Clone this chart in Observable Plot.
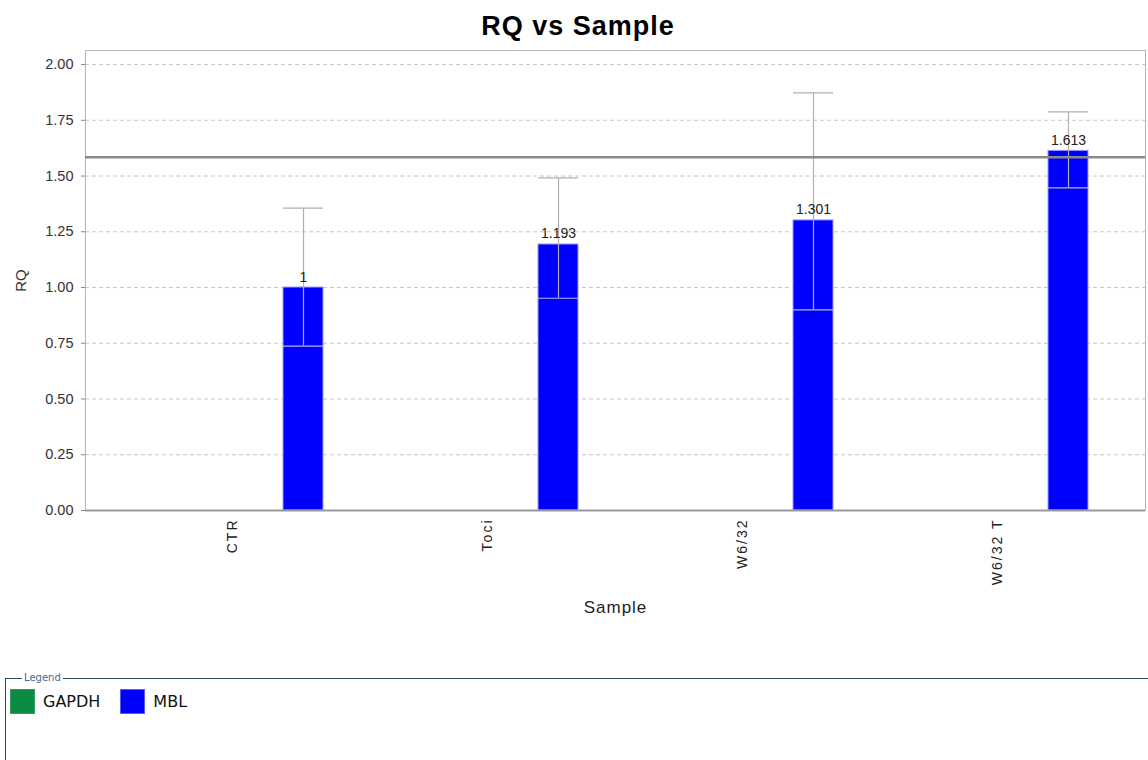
<!DOCTYPE html>
<html><head><meta charset="utf-8">
<script src="https://cdn.jsdelivr.net/npm/d3@7"></script>
<script src="https://cdn.jsdelivr.net/npm/@observablehq/plot@0.6"></script>
<style>
body{margin:0;background:#fff;font-family:"Liberation Sans",Arial,sans-serif;width:1148px;height:760px;overflow:hidden;position:relative;}
#title{position:absolute;top:0;left:4px;width:1148px;height:48px;line-height:52px;text-align:center;font-weight:bold;font-size:27px;letter-spacing:1px;color:#000;}
#chart{position:absolute;top:48px;left:0;width:1148px;height:617px;}
#chart svg{position:absolute;top:0;left:0;}
#chart g[aria-label="x-axis tick label"] text{letter-spacing:2px;}
#chart g[aria-label="y-axis label"] text{font-size:15px;}
#chart g[aria-label="x-axis label"] text{font-size:17px;letter-spacing:1px;}
#chart g[aria-label="value label"] text{letter-spacing:0.6px;}
fieldset{position:absolute;top:671px;left:5px;width:1200px;height:140px;margin:0;padding:2px 4px;border:1px solid #2e4a66;box-sizing:border-box;}
legend{font-family:"DejaVu Sans",sans-serif;font-size:10px;color:#3d6a96;padding:0 2px;margin-left:12px;line-height:14px;}
.item{display:inline-flex;align-items:center;margin-right:20px;font-family:"DejaVu Sans",sans-serif;font-size:16px;color:#111;}
.sw{display:inline-block;width:25px;height:25px;margin-right:8px;box-sizing:border-box;}
#items{position:absolute;top:4px;left:4px;}
</style></head>
<body>
<div id="title">RQ vs Sample</div>
<div id="chart"></div>
<fieldset><legend>Legend</legend><div id="items"></div></fieldset>
<script>
const samples = ["CTR", "Toci", "W6/32", "W6/32 T"];
const genes = ["GAPDH", "MBL"];
const geneColors = ["#0a8c45", "#0000ff"];
const mblRQ = [1, 1.193, 1.301, 1.613];
const mblRQMin = [0.737, 0.952, 0.900, 1.447];
const mblRQMax = [1.356, 1.492, 1.873, 1.788];
const thresholdRQ = [1.584];
const yTicks = [0, 0.25, 0.5, 0.75, 1, 1.25, 1.5, 1.75, 2];
const yDomain = [0, 2.063];

const rows = samples.map((s, i) => ({sample: s, gene: "MBL", rq: mblRQ[i], lo: mblRQMin[i], hi: mblRQMax[i]}));

const common = {
  width: 1148,
  height: 617,
  marginLeft: 85,
  marginRight: 3,
  marginTop: 2,
  marginBottom: 155,
  style: {fontFamily: "'Liberation Sans', Arial, sans-serif", fontSize: "13px", color: "#333", background: "transparent"}
};
const sampleScale = {type: "band", domain: samples, paddingInner: 0, paddingOuter: 0.078};

// Layer 1: grid and axes
const baseLayer = Plot.plot({
  ...common,
  style: {...common.style, background: "#fff"},
  x: {...sampleScale, label: null},
  y: {domain: yDomain, label: null},
  marks: [
    Plot.gridY(yTicks, {stroke: "#c8c8c8", strokeOpacity: 1, strokeDasharray: "4,3"}),
    Plot.axisY(yTicks, {tickFormat: d3.format(".2f"), tickSize: 4, tickPadding: 8, stroke: "#888", fill: "#333", fontSize: 14.5, label: "RQ", labelAnchor: "center", labelOffset: 70, labelArrow: "none"}),
    Plot.axisX({anchor: "bottom", tickSize: 0, tickPadding: 8, tickRotate: -90, fontSize: 14, fill: "#222", label: "Sample", labelAnchor: "center", labelOffset: 102, labelArrow: "none"})
  ]
});

// Layer 2: grouped bars with error bars
const barLayer = Plot.plot({
  ...common,
  fx: {...sampleScale, axis: null},
  x: {domain: genes, paddingInner: 0.718, paddingOuter: 0.257, axis: null},
  y: {domain: yDomain, axis: null},
  color: {domain: genes, range: geneColors},
  marks: [
    Plot.barY(rows, {fx: "sample", x: "gene", y: "rq", fill: "gene", stroke: "#9a9aff", strokeWidth: 1}),
    Plot.ruleX(rows, {fx: "sample", x: "gene", y1: "lo", y2: "hi", stroke: "#b0b0b0", strokeWidth: 1.2}),
    Plot.tickY(rows, {fx: "sample", x: "gene", y: "hi", stroke: "#b0b0b0", strokeWidth: 1.2}),
    Plot.tickY(rows, {fx: "sample", x: "gene", y: "lo", stroke: "#b4b4e8", strokeWidth: 1.2}),
    Plot.text(rows, {fx: "sample", x: "gene", y: "rq", text: d => String(d.rq), lineAnchor: "bottom", dy: -6, fill: "#222", fontSize: 14, ariaLabel: "value label"})
  ]
});

// Layer 3: frame, threshold and baseline
const overLayer = Plot.plot({
  ...common,
  x: {...sampleScale, axis: null},
  y: {domain: yDomain, axis: null},
  marks: [
    Plot.frame({stroke: "#b4b4b4"}),
    Plot.ruleY(thresholdRQ, {stroke: "#8a8a8a", strokeWidth: 2.5}),
    Plot.ruleY([0], {stroke: "#9a9a9a", strokeWidth: 2})
  ]
});

const holder = document.getElementById("chart");
holder.appendChild(baseLayer);
holder.appendChild(barLayer);
holder.appendChild(overLayer);

const items = document.getElementById("items");
genes.forEach((g, i) => {
  const el = document.createElement("span");
  el.className = "item";
  const sw = document.createElement("span");
  sw.className = "sw";
  sw.style.background = geneColors[i];
  sw.style.border = "1px solid " + (i === 0 ? "#3a9a60" : "#5a5aff");
  el.appendChild(sw);
  el.appendChild(document.createTextNode(g));
  items.appendChild(el);
});
</script>
</body></html>
